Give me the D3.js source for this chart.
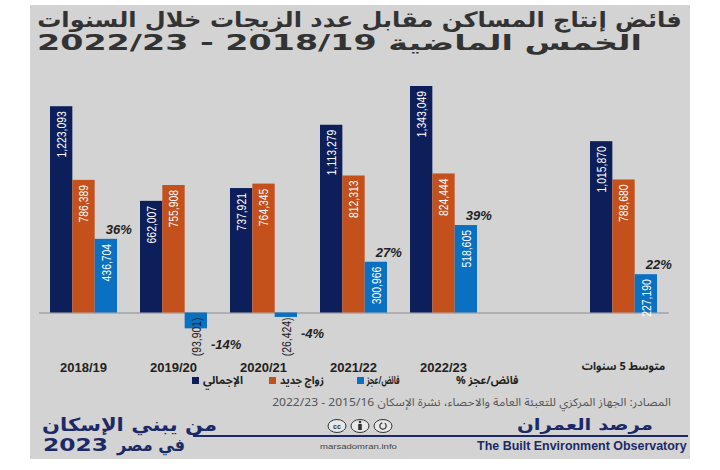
<!DOCTYPE html>
<html><head><meta charset="utf-8">
<script src="https://cdn.jsdelivr.net/npm/d3@7"></script>
<style>body{margin:0;background:#fff}svg{display:block}</style>
</head><body><svg id="c" width="720" height="470"></svg>
<script>
// ---- data ----
const categories = ["2018/19","2019/20","2020/21","2021/22","2022/23","","متوسط 5 سنوات"];
const totalUnits   = [1223093, 662007, 737921, 1113279, 1343049, null, 1015870];
const newMarriages = [786389, 755908, 764345, 812313, 824444, null, 788680];
const surplus      = [436704, -93901, -26424, 300966, 518605, null, 227190];
const surplusPct   = [36, -14, -4, 27, 39, null, 22];
const seriesNames  = ["الإجمالي","زواج جديد","فائض/عجز"];
const pctName      = "فائض/عجز %";
const titleLines   = ["فائض إنتاج المساكن مقابل عدد الزيجات خلال السنوات","الخمس الماضية 2018/19 - 2022/23"];
const sourceText   = "المصادر: الجهاز المركزي للتعبئة العامة والاحصاء، نشرة الإسكان 2015/16 - 2022/23";

const colors = ["#0c1f5b","#c4501b","#0a71c2"];
const navy = "#1b2a66";
const AR = "'Noto Sans Arabic','DejaVu Sans', sans-serif";
const DJ = "'DejaVu Sans', sans-serif";
const LAT = "'Liberation Sans', Arial, sans-serif";

const svg = d3.select("#c");
svg.append("rect").attr("x",30).attr("y",5).attr("width",660).attr("height",454).attr("fill","#d3d3d3");

function fitText(str, o){
  const t = svg.append("text").text(str)
    .attr("font-family", o.family||AR).attr("font-size", o.size)
    .attr("font-weight", o.weight||"normal").attr("font-style", o.style||"normal")
    .attr("fill", o.fill||"#222").attr("direction", o.rtl?"rtl":"ltr")
    .attr("text-anchor","middle");
  const b = t.node().getBBox();
  const s = (o.right - o.left)/b.width;
  t.attr("transform", `translate(${o.left - b.x*s},${o.baseline}) scale(${s},1)`);
  return t;
}

// title
fitText(titleLines[0], {left:37,right:682,baseline:27,size:21,weight:"bold",fill:"#333",rtl:true,family:DJ});
fitText(titleLines[1], {left:37,right:642,baseline:50,size:21,weight:"bold",fill:"#333",rtl:true,family:DJ});

// scales
const slots = d3.range(categories.length);
const x0 = d3.scaleBand().domain(slots).range([38.5,668.5]).paddingInner(23/90).paddingOuter(11.5/90);
const x1 = d3.scaleBand().domain([0,1,2]).range([0,x0.bandwidth()]);
const y = d3.scaleLinear().domain([0,1400000]).range([312.5, 312.5 - 1400000*226.5/1343049]);

const rows = slots.filter(i => totalUnits[i] !== null).map(i => ({i, vals:[totalUnits[i], newMarriages[i], surplus[i]], pct:surplusPct[i]}));
const fmt = d3.format(",");

// axis
const axis = d3.axisBottom(x0).tickSize(0).tickPadding(50).tickFormat(i => categories[i]);
const ag = svg.append("g").attr("transform",`translate(0,${y(0)})`).call(axis);
ag.select(".domain").attr("stroke","#8c8c8c").attr("stroke-width",1.2);
ag.selectAll(".tick text").attr("font-weight","bold")
  .attr("font-size", i => i===6 ? 11 : 13).attr("fill","#222")
  .attr("font-family", i => i===6 ? AR : LAT);

// bars
const groups = svg.selectAll("g.grp").data(rows).join("g").attr("class","grp")
  .attr("transform", d => `translate(${x0(d.i)},0)`);
groups.selectAll("rect").data(d => d.vals.map((v,k)=>({v,k}))).join("rect")
  .attr("x", d => x1(d.k)).attr("width", x1.bandwidth())
  .attr("y", d => Math.min(y(d.v), y(0))).attr("height", d => Math.abs(y(d.v)-y(0)))
  .attr("fill", d => colors[d.k]);

groups.selectAll("text.val").data(d => d.vals.map((v,k)=>({v,k}))).join("text").attr("class","val")
  .attr("transform", d => {
    const cx = x1(d.k) + x1.bandwidth()/2;
    return d.v >= 0
      ? `translate(${cx},${y(d.v)+5}) rotate(-90) scale(0.8,1)`
      : `translate(${cx},${y(0)+5}) rotate(-90) scale(0.8,1)`;
  })
  .attr("text-anchor","end").attr("dominant-baseline","central")
  .attr("font-family", LAT).attr("font-size", 13)
  .attr("fill", d => d.v >= 0 ? "#fff" : "#222")
  .text(d => d.v >= 0 ? fmt(d.v) : `(${fmt(-d.v)})`);

groups.append("text").attr("class","pct")
  .attr("x", d => d.vals[2] >= 0 ? x1(2)+x1.bandwidth()/2+13 : x1(2)+x1.bandwidth()+4)
  .attr("y", d => d.vals[2] >= 0 ? y(d.vals[2])-5 : y(d.vals[2])+21)
  .attr("text-anchor", d => d.vals[2] >= 0 ? "middle" : "start")
  .attr("font-family", LAT).attr("font-weight","bold").attr("font-style","italic")
  .attr("font-size",13).attr("fill","#222")
  .text(d => `${d.pct}%`);

// legend
const legendItems = [
  {name:seriesNames[0], color:colors[0], box:[192,199], txt:[203,243]},
  {name:seriesNames[1], color:colors[1], box:[269,276], txt:[280,324]},
  {name:seriesNames[2], color:colors[2], box:[357,364], txt:[366,400]},
  {name:pctName, color:null, txt:[456,519]}
];
legendItems.forEach(it => {
  if (it.color) svg.append("rect").attr("x",it.box[0]).attr("y",377).attr("width",it.box[1]-it.box[0]).attr("height",7).attr("fill",it.color);
  fitText(it.name, {left:it.txt[0],right:it.txt[1],baseline:384,size:11,weight:"bold",fill:"#222",rtl:true});
});

// source
fitText(sourceText, {left:272,right:671,baseline:406,size:11,fill:"#555",rtl:true});

// footer
fitText("من يبني الإسكان", {left:42,right:217,baseline:431,size:18,weight:"bold",fill:navy,rtl:true,family:DJ});
fitText("في مصر", {left:116,right:185,baseline:451,size:18,weight:"bold",fill:navy,rtl:true,family:DJ});
fitText("2023", {left:43,right:108,baseline:451,size:18,weight:"bold",fill:navy,family:DJ});
svg.append("line").attr("x1",193).attr("x2",688).attr("y1",436).attr("y2",436).attr("stroke",navy).attr("stroke-width",2);
fitText("مرصد العمران", {left:517,right:653,baseline:430,size:16,weight:"bold",fill:navy,rtl:true,family:DJ});
fitText("The Built Environment Observatory", {left:477,right:687,baseline:450,size:12,weight:"bold",fill:navy,family:LAT});
fitText("marsadomran.info", {left:320,right:397,baseline:449,size:7,fill:"#444",family:LAT});

// cc icons
const icons = [337,360,383];
icons.forEach((cx,k) => {
  svg.append("ellipse").attr("cx",cx).attr("cy",426).attr("rx",9).attr("ry",6.5)
    .attr("fill","#e8e8e8").attr("stroke","#333").attr("stroke-width",1);
  if (k===0) svg.append("text").attr("x",cx).attr("y",428.5).attr("text-anchor","middle")
    .attr("font-family",LAT).attr("font-size",7).attr("font-weight","bold").attr("fill","#333").text("cc");
  if (k===1){
    svg.append("circle").attr("cx",cx).attr("cy",422).attr("r",1.3).attr("fill","#333");
    svg.append("rect").attr("x",cx-1.8).attr("y",424).attr("width",3.6).attr("height",6).attr("fill","#333");
  }
  if (k===2){
    svg.append("path").attr("d", d3.arc()({innerRadius:2.6,outerRadius:3.8,startAngle:0.6,endAngle:2*Math.PI-0.2}))
      .attr("transform",`translate(${cx},426)`).attr("fill","#333");
  }
});
</script></body></html>
